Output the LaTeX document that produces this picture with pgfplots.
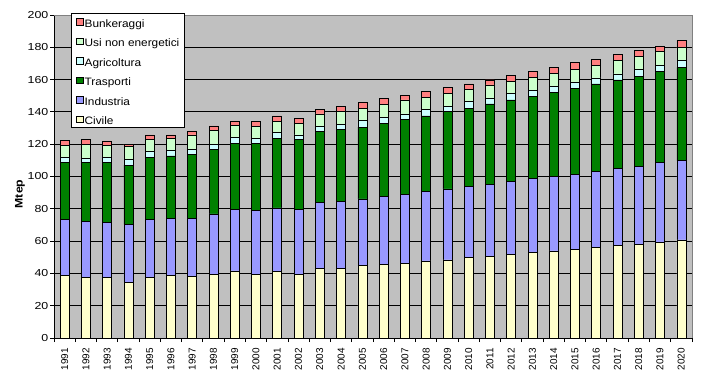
\documentclass[border=0pt]{standalone}
\usepackage{fontspec}
\setmainfont{Liberation Sans}
\newfontfamily\ytickfont[FakeStretch=1.22]{Liberation Sans}
\newfontfamily\legfont[FakeStretch=1.1]{Liberation Sans}
\newfontfamily\mtepfont[FakeStretch=1.12]{Liberation Sans}
\usepackage{pgfplots}
\pgfplotsset{compat=1.18}
\usepackage{pgfplotstable}
\definecolor{bg}{HTML}{C0C0C0}
\definecolor{civ}{HTML}{FFFFCC}
\definecolor{ind}{HTML}{9999FF}
\definecolor{tra}{HTML}{008000}
\definecolor{agr}{HTML}{CCFFFF}
\definecolor{usi}{HTML}{CCFFCC}
\definecolor{bun}{HTML}{FF8080}
\definecolor{frame}{HTML}{808080}

\pgfplotstableread{
year civ ind tra agr usi bun
1991 38.6 34.9 35.0 3.3 7.7 3.1
1992 37.3 34.7 36.5 2.7 8.9 2.9
1993 37.3 34.1 37.1 3.3 7.3 2.9
1994 34.5 35.9 36.7 3.5 7.9 1.6
1995 37.3 36.2 38.3 3.6 7.6 2.7
1996 38.6 35.5 38.6 3.3 7.6 2.1
1997 38.0 36.1 39.8 2.9 8.9 2.5
1998 39.4 37.4 40.2 3.1 8.3 2.9
1999 41.5 38.2 40.8 3.5 7.4 3.0
2000 39.6 39.2 41.7 3.1 7.2 3.1
2001 41.3 39.2 43.1 3.6 6.7 3.6
2002 39.6 40.1 43.3 2.7 7.2 3.1
2003 43.2 40.6 44.0 3.0 7.9 2.9
2004 43.2 41.2 44.8 3.1 7.8 3.1
2005 44.8 41.3 44.4 4.1 7.6 3.5
2006 45.6 41.9 45.4 3.8 8.0 3.5
2007 46.2 42.5 46.7 3.3 8.7 2.9
2008 47.7 43.1 46.7 4.1 7.4 3.7
2009 48.3 44.0 47.8 3.1 8.3 3.5
2010 49.7 44.0 48.5 4.1 7.6 3.4
2011 50.3 44.7 49.9 3.5 8.3 3.1
2012 51.8 45.2 50.4 4.1 7.3 3.6
2013 53.0 45.9 50.9 3.3 8.1 3.7
2014 53.9 46.0 52.0 3.7 8.3 3.5
2015 55.1 46.2 53.3 3.7 8.1 4.1
2016 56.1 47.3 53.9 3.7 8.0 3.6
2017 57.4 47.7 54.7 3.7 8.2 3.7
2018 58.0 48.5 55.7 4.2 7.8 3.9
2019 59.4 49.1 56.4 4.0 8.4 3.5
2020 60.7 49.1 57.8 4.1 8.1 4.7
}\datatable

\begin{document}
\begin{tikzpicture}
\begin{axis}[
  scale only axis, width=638bp, height=323bp,
  xmin=1990.5, xmax=2020.5, ymin=0, ymax=200,
  ybar stacked, bar width=9bp,
  clip=false,
  axis lines=left, axis line style={-, black, line width=0.9bp},
  axis background/.style={fill=bg},
  ytick={0,20,...,200}, ymajorgrids, grid style={black, line width=0.9bp},
  xtick={1991,...,2020},
  minor xtick={1990.5,1991.5,...,2020.5},
  major x tick style={draw=none},
  tick style={black, line width=0.8bp},
  tick align=outside, major tick length=4bp, minor tick length=4bp,
  /pgf/number format/assume math mode=true,
  /pgf/number format/1000 sep={},
  x tick label style={font=\fontsize{10}{12}\selectfont, rotate=90, anchor=east, inner xsep=6bp, inner ysep=1bp},
  y tick label style={font=\ytickfont\fontsize{10.2}{12}\selectfont, inner sep=1.5bp},
  ylabel={Mtep},
  ylabel style={at={(axis description cs:-0.0533,0.446)}, anchor=center, font=\mtepfont\bfseries\fontsize{11}{12}\selectfont},
  reverse legend,
  legend cell align=left,
  legend image code/.code={\draw[#1, draw=black, line width=0.7bp] (0bp,-3bp) rectangle (7bp,3.5bp);},
  legend style={at={(rel axis cs:0,1)}, anchor=north west, xshift=17bp, yshift=1.7bp,
    draw=black, line width=0.9bp, fill=white,
    font=\legfont\fontsize{10.8}{13}\selectfont,
    inner xsep=4.5bp, inner ysep=2bp,
    row sep=7bp,
    nodes={text height=10.5bp, text depth=0bp, inner sep=1bp}},
  every axis plot/.append style={draw=black, line width=0.7bp},
]
\addplot[fill=civ] table[x=year,y=civ]{\datatable};
\addlegendentry{Civile}
\addplot[fill=ind] table[x=year,y=ind]{\datatable};
\addlegendentry{Industria}
\addplot[fill=tra] table[x=year,y=tra]{\datatable};
\addlegendentry{Trasporti}
\addplot[fill=agr] table[x=year,y=agr]{\datatable};
\addlegendentry{Agricoltura}
\addplot[fill=usi] table[x=year,y=usi]{\datatable};
\addlegendentry{Usi non energetici}
\addplot[fill=bun] table[x=year,y=bun]{\datatable};
\addlegendentry{Bunkeraggi}
\draw[frame, line width=0.9bp] (rel axis cs:0,1) -- (rel axis cs:1,1) -- (rel axis cs:1,0);
\end{axis}
\pgfresetboundingbox
\path ([shift={(-54bp,-43bp)}]current axis.south west) rectangle ([shift={(9bp,15bp)}]current axis.north east);
\end{tikzpicture}
\end{document}
